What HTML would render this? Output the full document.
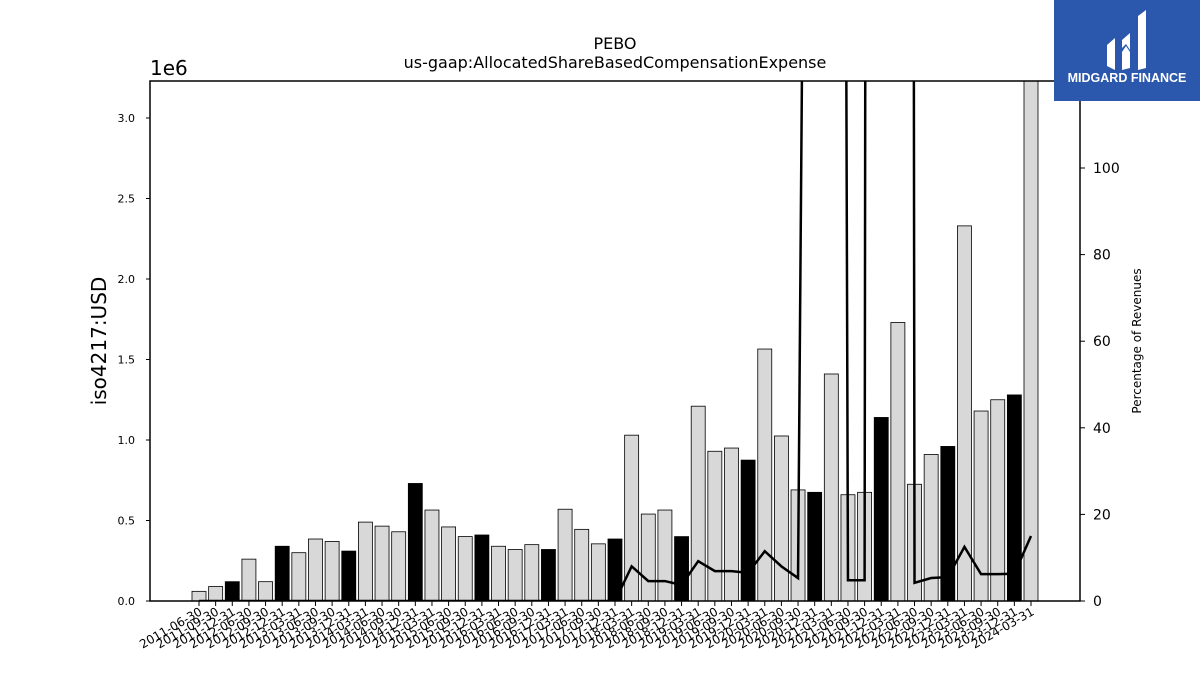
<!DOCTYPE html>
<html><head><meta charset="utf-8"><style>
body{margin:0;background:#fff;}
svg{display:block;font-family:"DejaVu Sans","Liberation Sans",sans-serif;}
</style></head><body>
<svg id="chart" width="1200" height="675" viewBox="0 0 1200 675" xmlns="http://www.w3.org/2000/svg">
<text x="615" y="49" font-size="16" text-anchor="middle">PEBO</text>
<text x="615" y="68" font-size="16" text-anchor="middle">us-gaap:AllocatedShareBasedCompensationExpense</text>
<text x="150" y="75" font-size="20">1e6</text>
<text transform="translate(106,341) rotate(-90)" font-size="20" text-anchor="middle">iso4217:USD</text>
<text transform="translate(1141,341) rotate(-90)" font-size="12" text-anchor="middle">Percentage of Revenues</text>
<g id="bars"></g>
<g id="line"></g>
<g id="axes"></g>
<g>
<rect x="1054" y="0" width="146" height="101" fill="#2b58ad"/>
<path d="M1107 45 L1115 38 L1115 70 L1107 66 Z M1122 40 L1130 33 L1130 50 L1126 44 L1122 48 Z M1138 16 L1146 10 L1146 68 L1138 70 Z M1122 52 L1126 46 L1130 52 L1130 68 L1122 70 Z" fill="#fff"/>
<text x="1127" y="82" font-size="12.5" font-weight="bold" fill="#fff" text-anchor="middle" font-family="Liberation Sans, sans-serif">MIDGARD FINANCE</text>
</g>
</svg>
<script>
const labels=["2011-06-30","2011-09-30","2011-12-31","2012-06-30","2012-09-30","2012-12-31","2013-03-31","2013-06-30","2013-09-30","2013-12-31","2014-03-31","2014-06-30","2014-09-30","2014-12-31","2015-03-31","2015-06-30","2015-09-30","2015-12-31","2016-03-31","2016-06-30","2016-09-30","2016-12-31","2017-03-31","2017-06-30","2017-09-30","2017-12-31","2018-03-31","2018-06-30","2018-09-30","2018-12-31","2019-03-31","2019-06-30","2019-09-30","2019-12-31","2020-03-31","2020-06-30","2020-09-30","2020-12-31","2021-03-31","2021-06-30","2021-09-30","2021-12-31","2022-03-31","2022-06-30","2022-09-30","2022-12-31","2023-03-31","2023-06-30","2023-09-30","2023-12-31","2024-03-31"];
const values=[0.06,0.09,0.12,0.26,0.12,0.34,0.30,0.385,0.37,0.31,0.49,0.465,0.43,0.73,0.565,0.46,0.40,0.41,0.34,0.32,0.35,0.32,0.57,0.445,0.355,0.385,1.03,0.54,0.565,0.40,1.21,0.93,0.95,0.875,1.565,1.025,0.69,0.675,1.41,0.66,0.675,1.14,1.73,0.725,0.91,0.96,2.33,1.18,1.25,1.28,3.3];
const pct=[0,0,0,0,0,0,0,0,0,0,0,0,0,0,0,0,0,0,0,0,0,0,0,0,0,0,8,4.6,4.6,3.7,9.2,6.9,6.9,6.5,11.5,8,5.3,500,1200,4.8,4.8,3000,3000,4.2,5.3,5.5,12.5,6.2,6.2,6.3,15];
const yTicks=[0,0.5,1.0,1.5,2.0,2.5,3.0];
const y2Ticks=[0,20,40,60,80,100];
const NS="http://www.w3.org/2000/svg";
const L=150,R=1080,T=81,B=601;
const x=i=>199+i*16.64;
const y=v=>B-v*161;
const y2=v=>B-v*4.33;
function mk(tag,at,parent){const e=document.createElementNS(NS,tag);for(const k in at)e.setAttribute(k,at[k]);parent.appendChild(e);return e;}
const bars=document.getElementById('bars'),line=document.getElementById('line'),axes=document.getElementById('axes');
const clip=mk('clipPath',{id:'pc'},document.getElementById('chart'));mk('rect',{x:L,y:T,width:R-L,height:B-T},clip);
bars.setAttribute('clip-path','url(#pc)');line.setAttribute('clip-path','url(#pc)');
values.forEach((v,i)=>{
 const annual=labels[i].endsWith('12-31');
 const r=mk('rect',{x:x(i)-7,y:y(v),width:14,height:B-y(v),fill:annual?'#000':'#d8d8d8',stroke:'#000','stroke-width':0.8},bars);
 
 
});
const p=mk('polyline',{points:pct.map((v,i)=>x(i)+','+y2(v)).join(' '),fill:'none',stroke:'#000','stroke-width':2.5},line);


mk('rect',{x:L,y:T,width:R-L,height:B-T,fill:'none',stroke:'#000','stroke-width':1.5},axes);
yTicks.forEach(v=>{
 mk('line',{x1:L-4,x2:L,y1:y(v),y2:y(v),stroke:'#000'},axes);
 const t=mk('text',{x:L-15,y:y(v)+4,'font-size':11,'text-anchor':'end'},axes);t.textContent=v.toFixed(1);
 
 
});
y2Ticks.forEach(v=>{
 mk('line',{x1:R,x2:R+5,y1:y2(v),y2:y2(v),stroke:'#000'},axes);
 const t=mk('text',{x:R+13,y:y2(v)+5,'font-size':14},axes);t.textContent=v;
 
 
});
labels.forEach((l,i)=>{
 mk('line',{x1:x(i),x2:x(i),y1:B,y2:B+5,stroke:'#000'},axes);
 const t=mk('text',{transform:`translate(${x(i)+4},${B+13}) rotate(-30)`,'font-size':12,'text-anchor':'end'},axes);t.textContent=l;
 
 
});
</script>
</body></html>
